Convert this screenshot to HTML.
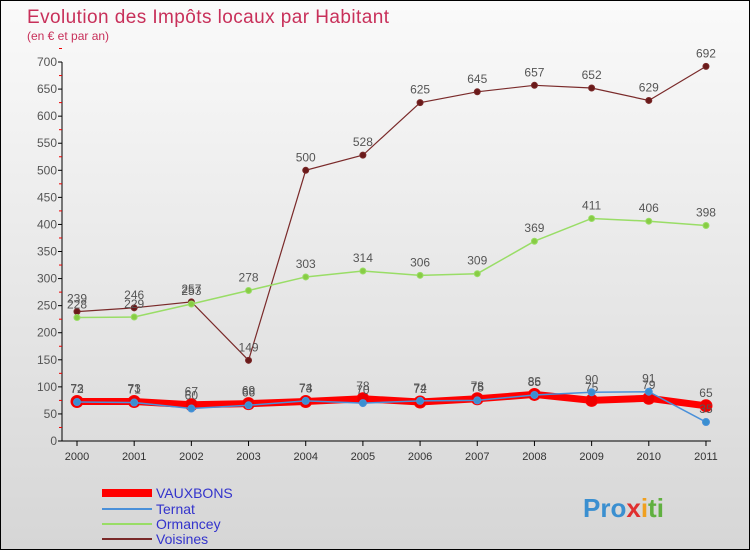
<!DOCTYPE html>
<html><head><meta charset="utf-8"><style>
body{margin:0}
#c{width:748px;height:548px;border:1px solid #000;position:relative;background:linear-gradient(#fafafa,#d6d6d6);font-family:"Liberation Sans",sans-serif;overflow:hidden}
</style></head><body>
<div id="c">
<svg id="s" width="748" height="548">
<text x="26" y="22" font-size="19" fill="#c8305a" textLength="362">Evolution des Impôts locaux par Habitant</text>
<text x="26" y="39" font-size="12" fill="#c8305a">(en € et par an)</text>
<g id="axes"></g><g id="series"></g>
<g>
<rect x="101" y="488" width="50" height="8" fill="#ff0000"/>
<text x="155" y="497" font-size="14" fill="#3333cc">VAUXBONS</text>
<line x1="101" y1="508" x2="151" y2="508" stroke="#4a90d9" stroke-width="2"/>
<text x="155" y="513" font-size="14" fill="#3333cc">Ternat</text>
<line x1="101" y1="523" x2="151" y2="523" stroke="#99dd66" stroke-width="2"/>
<text x="155" y="528" font-size="14" fill="#3333cc">Ormancey</text>
<line x1="101" y1="538" x2="151" y2="538" stroke="#7a2a2a" stroke-width="2"/>
<text x="155" y="543" font-size="14" fill="#3333cc">Voisines</text>
</g>
<text x="582" y="516" font-size="26" font-weight="bold" fill="#3a8fd0">Pro<tspan fill="#e03030">x</tspan><tspan fill="#f0a020">i</tspan><tspan fill="#60b040">ti</tspan></text>
</svg>
</div>
<script>
const years=[2000,2001,2002,2003,2004,2005,2006,2007,2008,2009,2010,2011];
const yTicks=[0,50,100,150,200,250,300,350,400,450,500,550,600,650,700];
const vauxbons=[73,73,67,69,73,78,72,78,86,75,79,65];
const ternat=[72,71,60,66,74,70,74,75,85,90,91,35];
const ormancey=[228,229,253,278,303,314,306,309,369,411,406,398];
const voisines=[239,246,257,149,500,528,625,645,657,652,629,692];
const NS="http://www.w3.org/2000/svg";
const X=i=>76+i*57.18, Y=v=>440-v*0.5414;
function mk(t,a,p){const e=document.createElementNS(NS,t);for(const k in a)e.setAttribute(k,a[k]);p.appendChild(e);return e;}
const ax=document.getElementById('axes');
const yl=mk('line',{x1:61,y1:Y(0),x2:61,y2:Y(700),stroke:'#000'},ax);

const xl=mk('line',{x1:61,y1:Y(0),x2:X(11)+5,y2:Y(0),stroke:'#000'},ax);

yTicks.forEach(v=>{mk('line',{x1:57,x2:61,y1:Y(v),y2:Y(v),stroke:'#000'},ax);
 mk('line',{x1:58,x2:61,y1:Y(v+25),y2:Y(v+25),stroke:'#e00'},ax);
 const t=mk('text',{x:56,y:Y(v)+4,'text-anchor':'end','font-size':12,fill:'#555'},ax);t.textContent=v;
 });
years.forEach((y,i)=>{mk('line',{x1:X(i),x2:X(i),y1:Y(0),y2:Y(0)+5,stroke:'#000'},ax);
 const t=mk('text',{x:X(i),y:Y(0)+19,'text-anchor':'middle','font-size':11,fill:'#333'},ax);t.textContent=y;
 });
const sg=document.getElementById('series');
function draw(d,name,col,w,r,dot){const g=mk('g',{},sg);
 
 const l=mk('polyline',{points:d.map((v,i)=>X(i)+','+Y(v)).join(' '),fill:'none',stroke:col,'stroke-width':w},g);
 
 d.forEach((v,i)=>{const c=mk('circle',{cx:X(i),cy:Y(v),r:r,fill:dot,stroke:col,'stroke-width':1},g);
  
  const t=mk('text',{x:X(i),y:Y(v)-9,'text-anchor':'middle','font-size':12,fill:'#555'},g);t.textContent=v;
  });}
draw(voisines,'voisines','#7a2a2a',1.2,3,'#6a1a1a');
draw(ormancey,'ormancey','#99dd66',1.5,3,'#88cc44');
draw(vauxbons,'vauxbons','#ff0000',7,6,'#ee0000');
draw(ternat,'ternat','#4a90d9',1.5,3.5,'#3a8fd0');
</script>
</body></html>
